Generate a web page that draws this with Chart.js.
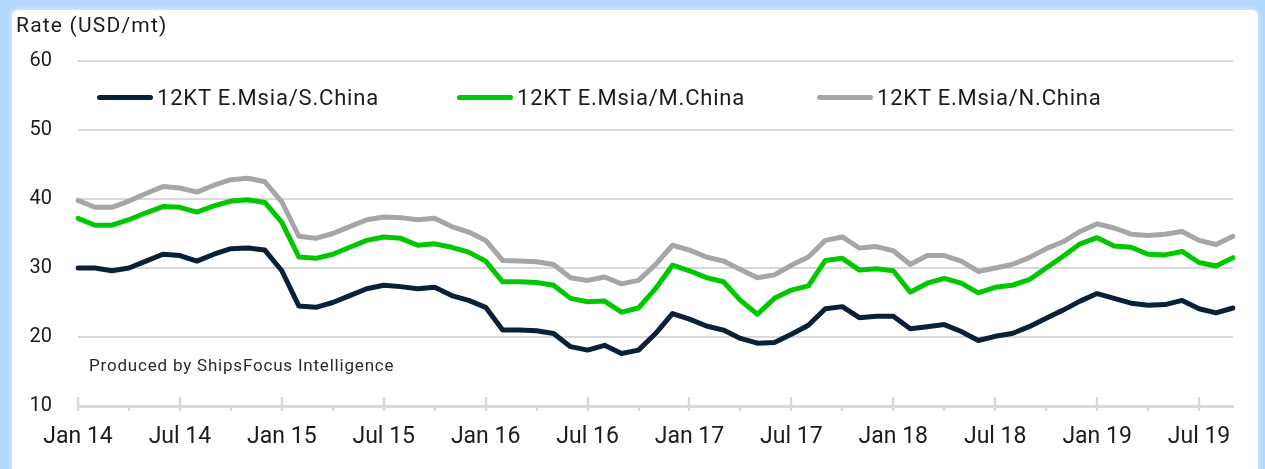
<!DOCTYPE html>
<html>
<head>
<meta charset="utf-8">
<script src="https://cdn.jsdelivr.net/npm/chart.js@4.4.1/dist/chart.umd.min.js"></script>
<style>
    html, body { margin: 0; padding: 0; }
    body {
        width: 1265px; height: 469px; overflow: hidden;
        background: #b2d8fc;
        font-family: Roboto, "Noto Sans", sans-serif;
        color: #1c1c1c;
    }
    #frame {
        position: absolute; left: 12px; top: 10px; width: 1246px; height: 480px;
        background: #fff; border-radius: 6px 6px 0 0;
        box-shadow: 0 0 4px 2px #cfe6fd;
    }
    #wrap { position: absolute; left: 0; top: 0; width: 1265px; height: 469px; }
    #title { position: absolute; left: 16px; top: 13px; font-size: 21px; letter-spacing: 1.2px; }
    #note { position: absolute; left: 89px; top: 355px; font-size: 17px; letter-spacing: 0.8px; color: #2a2a2a; }
    #legend { position: absolute; left: 97px; top: 85px; display: flex; }
    .item { width: 360px; display: flex; align-items: center; font-size: 22px; letter-spacing: 0.8px; }
    .swatch { width: 56px; height: 5px; border-radius: 3px; margin-right: 4px; }
</style>
</head>
<body>
<div id="frame"></div>
<div id="wrap"><canvas id="chart" width="1265" height="469"></canvas></div>
<div id="title">Rate (USD/mt)</div>
<div id="legend"></div>
<div id="note">Produced by ShipsFocus Intelligence</div>
<script>
// monthly, Jan 14 .. Sep 19
const months = [
    'Jan 14','Feb 14','Mar 14','Apr 14','May 14','Jun 14','Jul 14','Aug 14','Sep 14','Oct 14','Nov 14','Dec 14',
    'Jan 15','Feb 15','Mar 15','Apr 15','May 15','Jun 15','Jul 15','Aug 15','Sep 15','Oct 15','Nov 15','Dec 15',
    'Jan 16','Feb 16','Mar 16','Apr 16','May 16','Jun 16','Jul 16','Aug 16','Sep 16','Oct 16','Nov 16','Dec 16',
    'Jan 17','Feb 17','Mar 17','Apr 17','May 17','Jun 17','Jul 17','Aug 17','Sep 17','Oct 17','Nov 17','Dec 17',
    'Jan 18','Feb 18','Mar 18','Apr 18','May 18','Jun 18','Jul 18','Aug 18','Sep 18','Oct 18','Nov 18','Dec 18',
    'Jan 19','Feb 19','Mar 19','Apr 19','May 19','Jun 19','Jul 19','Aug 19','Sep 19'
];

const sChina = [
    30.0, 30.0, 29.6, 30.0, 31.0, 32.0, 31.8, 31.0, 32.0, 32.8, 32.9, 32.6,
    29.6, 24.5, 24.3, 25.0, 26.0, 27.0, 27.5, 27.3, 27.0, 27.2, 26.0, 25.3,
    24.3, 21.0, 21.0, 20.9, 20.5, 18.6, 18.1, 18.8, 17.6, 18.1, 20.5, 23.4,
    22.6, 21.6, 21.0, 19.8, 19.1, 19.2, 20.4, 21.7, 24.1, 24.4, 22.8, 23.0,
    23.0, 21.2, 21.5, 21.8, 20.8, 19.5, 20.1, 20.5, 21.5, 22.7, 23.9, 25.2,
    26.3, 25.6, 24.9, 24.6, 24.7, 25.3, 24.1, 23.5, 24.2
];

const mChina = [
    37.2, 36.2, 36.2, 37.0, 38.0, 38.9, 38.8, 38.1, 39.0, 39.7, 39.9, 39.5,
    36.6, 31.6, 31.4, 32.0, 33.0, 34.0, 34.5, 34.3, 33.3, 33.5, 33.0, 32.3,
    31.0, 28.0, 28.0, 27.9, 27.5, 25.6, 25.1, 25.2, 23.6, 24.2, 27.0, 30.4,
    29.6, 28.6, 28.0, 25.3, 23.3, 25.6, 26.8, 27.4, 31.1, 31.4, 29.7, 29.9,
    29.6, 26.5, 27.8, 28.5, 27.8, 26.4, 27.2, 27.5, 28.3, 30.0, 31.7, 33.5,
    34.4, 33.2, 33.0, 32.0, 31.9, 32.4, 30.8, 30.3, 31.5
];

const nChina = [
    39.8, 38.8, 38.8, 39.7, 40.8, 41.8, 41.6, 41.0, 42.0, 42.8, 43.0, 42.5,
    39.6, 34.6, 34.3, 35.0, 36.0, 37.0, 37.4, 37.3, 37.0, 37.2, 36.0, 35.2,
    34.0, 31.1, 31.0, 30.9, 30.5, 28.6, 28.2, 28.7, 27.7, 28.2, 30.5, 33.3,
    32.6, 31.6, 31.0, 29.8, 28.6, 29.0, 30.4, 31.6, 34.0, 34.5, 32.9, 33.1,
    32.5, 30.5, 31.8, 31.8, 31.0, 29.5, 30.0, 30.5, 31.5, 32.8, 33.8, 35.3,
    36.4, 35.8, 34.9, 34.7, 34.9, 35.3, 34.0, 33.4, 34.6
];

const seriesNames = ['12KT E.Msia/S.China', '12KT E.Msia/M.China', '12KT E.Msia/N.China'];
const seriesColors = ['#0a1f38', '#00c800', '#a6a6a6'];
const seriesData = [sChina, mChina, nChina];

// legend lives inside the plot, so build it by hand
const legendEl = document.getElementById('legend');
seriesNames.forEach((name, i) => {
    let item = document.createElement('div');
    item.className = 'item';
    item.innerHTML = '<span class="swatch" style="background:' + seriesColors[i] + '"></span>' + name;
    legendEl.appendChild(item);
});

// axis ticks: long ones every 6 months, short ones every quarter
const axisTicks = {
    id: 'axisTicks',
    afterDraw(chart) {
        const x = chart.scales.x;
        const ctx = chart.ctx;
        const y0 = chart.chartArea.bottom;
        ctx.save();
        ctx.strokeStyle = '#d9d9d9';
        ctx.lineWidth = 2.5;
        for (let i = 0; i < months.length; i += 3) {
            let px = Math.round(x.getPixelForValue(i));
            ctx.beginPath();
            ctx.moveTo(px, i % 6 === 0 ? y0 - 9 : y0);
            ctx.lineTo(px, y0 + 5);
            ctx.stroke();
        }
        ctx.restore();
    }
};

const ctx = document.getElementById('chart').getContext('2d');
new Chart(ctx, {
    type: 'line',
    data: {
        labels: months,
        datasets: seriesData.map((d, i) => ({
            label: seriesNames[i],
            data: d,
            borderColor: seriesColors[i],
            backgroundColor: seriesColors[i],
            borderWidth: 5,
            pointRadius: 0,
            tension: 0,
            borderCapStyle: 'round',
            borderJoinStyle: 'round'
        }))
    },
    options: {
        responsive: false,
        animation: false,
        layout: { padding: { top: 61, right: 32, bottom: 0, left: 0 } },
        plugins: {
            legend: { display: false },
            tooltip: { enabled: false }
        },
        scales: {
            x: {
                offset: false,
                grid: { display: false, drawTicks: false },
                border: { display: true, color: '#d9d9d9', width: 3 },
                ticks: {
                    autoSkip: false,
                    maxRotation: 0,
                    padding: 17,
                    color: '#1c1c1c',
                    font: { family: 'Roboto', size: 23 },
                    callback: function(value, index) {
                        return index % 6 === 0 ? months[index] : '';
                    }
                },
                afterFit: function(scale) { scale.height = 63; }
            },
            y: {
                min: 10,
                max: 60,
                grid: { color: '#d9d9d9', lineWidth: 2, drawTicks: false },
                border: { display: false },
                ticks: {
                    stepSize: 10,
                    padding: 26,
                    color: '#1c1c1c',
                    font: { family: 'Roboto', size: 20 }
                },
                afterFit: function(scale) { scale.width = 78; }
            }
        }
    },
    plugins: [axisTicks]
});
</script>
</body>
</html>
